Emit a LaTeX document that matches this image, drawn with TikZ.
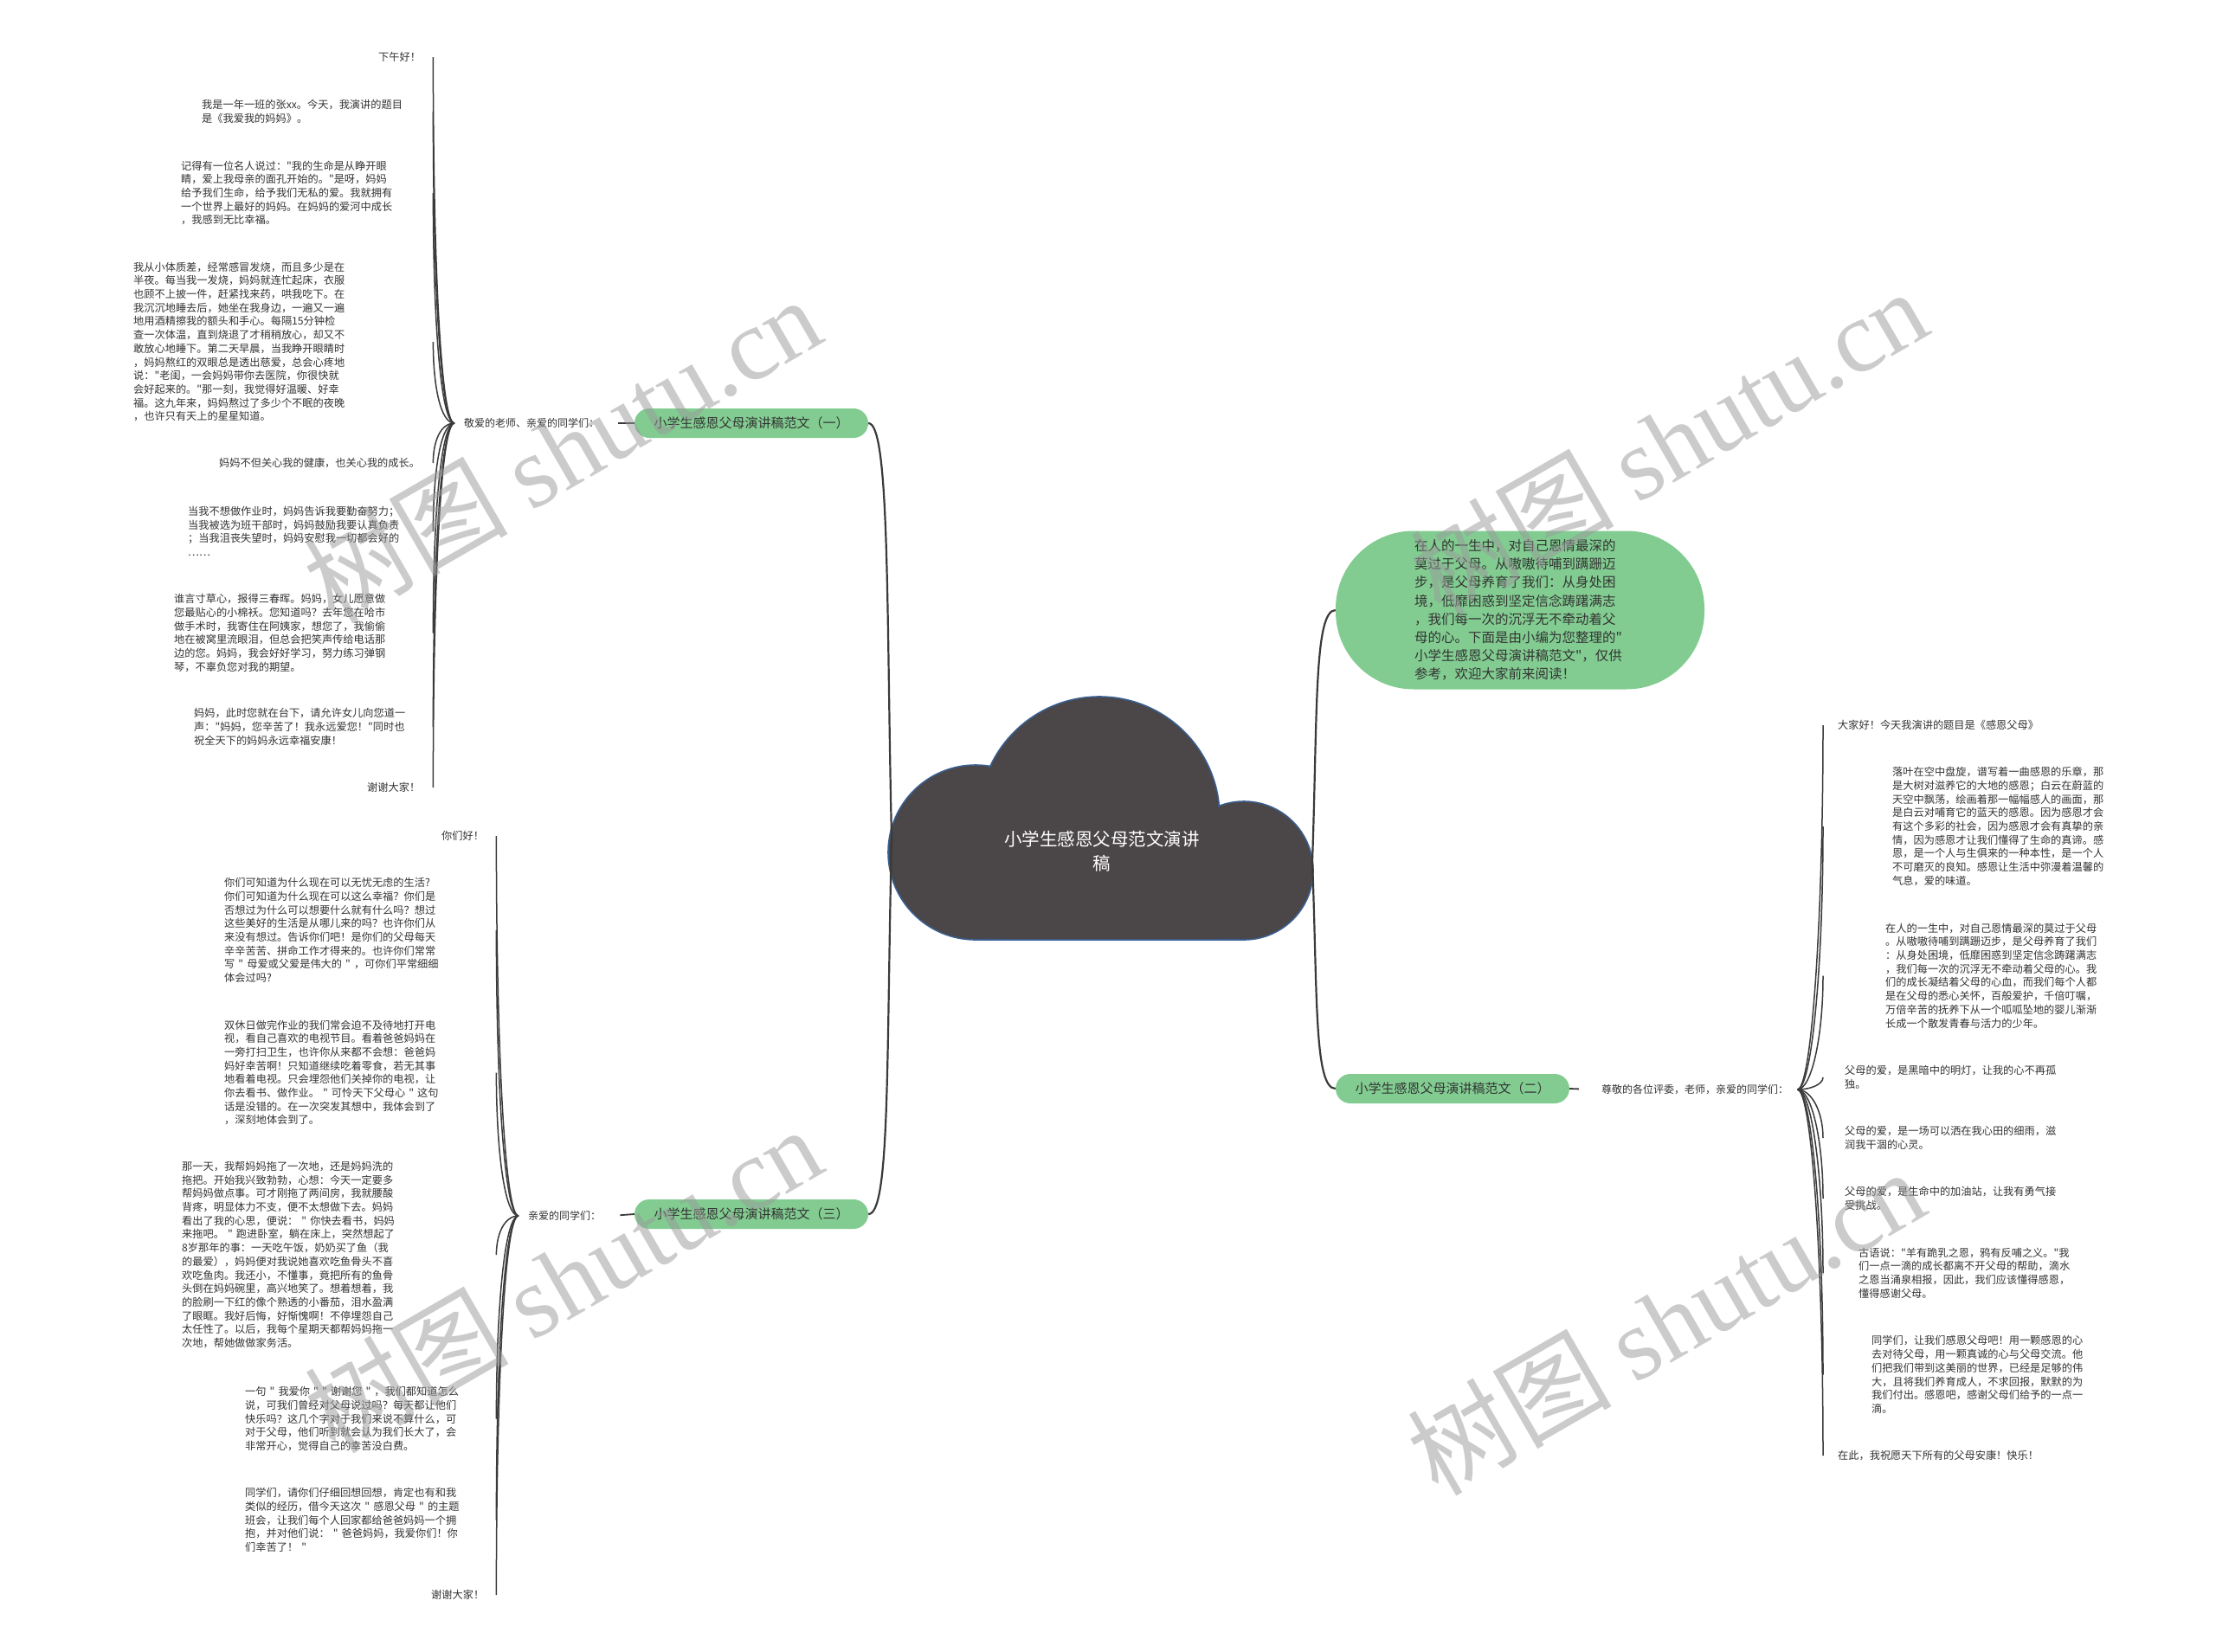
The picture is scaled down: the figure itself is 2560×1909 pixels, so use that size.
\documentclass[tikz,border=0pt]{standalone}
\usepackage{fontspec}
\setmainfont{Noto Sans CJK SC}[Ligatures=TeXOff]
\newfontfamily\wmlatin{Liberation Serif}
\usetikzlibrary{calc}
\definecolor{textc}{HTML}{333333}
\definecolor{linec}{HTML}{3A3A3A}
\definecolor{greenc}{HTML}{82CC91}
\definecolor{cloudc}{HTML}{4B4647}
\definecolor{cloudb}{HTML}{3A5F8F}
\tikzset{
 leaf/.style={font=\fontsize{12.2}{15.7}\selectfont, align=left, inner sep=0pt, text=textc, anchor=west},
 leafR/.style={leaf, text width=300pt},
 lab/.style={font=\fontsize{12}{14}\selectfont, inner xsep=11pt, inner ysep=0pt, text=textc},
 branch/.style={fill=greenc, rounded corners=17pt, minimum width=270pt, minimum height=34pt, inner sep=0pt, font=\fontsize{15}{18}\selectfont, text=textc},
 fan/.style={draw=linec, line width=1.5pt},
 mainc/.style={draw=linec, line width=2.2pt},
 wm/.style={font=\fontsize{118}{118}\selectfont, text=black!40, text opacity=0.5, rotate=30}
}
\newcommand\fanL[2]{\path (#2.east |- #1.west) coordinate (fanaux);
 \draw[fan] (#1.west) .. controls +(-16,0) and ($(#2.east)!0.55!(fanaux)$) .. (#2.east);}
\newcommand\fanR[2]{\path (#2.west |- #1.east) coordinate (fanaux);
 \draw[fan] (#1.east) .. controls +(16,0) and ($(#2.west)!0.55!(fanaux)$) .. (#2.west);}
\begin{document}
\begin{tikzpicture}[x=1pt,y=-1pt]
\fill[white] (0,0) rectangle (2560,1909);
\useasboundingbox (0,0) rectangle (2560,1909);

% ---------- cloud ----------
\draw[cloudb, line width=1.6pt, fill=cloudc] (1127,985) circle (101pt) (1270,944) circle (139pt) (1437,1006) circle (80pt) (1127,950) rectangle (1437,1086);
\fill[cloudc] (1127,985) circle (99.5pt) (1270,944) circle (137.5pt) (1437,1006) circle (78.5pt) (1127,950) rectangle (1437,1084.5);
\node[font=\fontsize{20.5}{28}\selectfont, text=white, align=center] (C) at (1273,984) {小学生感恩父母范文演讲\\稿};
\coordinate (cl) at (1030,968);
\coordinate (cr) at (1516,996);

% ---------- branches ----------
\node[branch] (B1) at (868,489) {小学生感恩父母演讲稿范文（一）};
\node[branch] (B3) at (868,1403) {小学生感恩父母演讲稿范文（三）};
\node[branch] (B2) at (1678,1258) {小学生感恩父母演讲稿范文（二）};
\node[fill=greenc, rounded corners=90pt, minimum width=426pt, minimum height=183pt, inner sep=0pt, text width=244pt, align=left, font=\fontsize{15.5}{21.2}\selectfont, text=textc] (S) at (1756,705) {在人的一生中，对自己恩情最深的\\莫过于父母。从嗷嗷待哺到蹒跚迈\\步，是父母养育了我们：从身处困\\境，低靡困惑到坚定信念踌躇满志\\，我们每一次的沉浮无不牵动着父\\母的心。下面是由小编为您整理的"\\小学生感恩父母演讲稿范文"，仅供\\参考，欢迎大家前来阅读！};

\draw[mainc] (B1.east) .. controls +(25,0) and +(-6,-260) .. (cl);
\draw[mainc] (B3.east) .. controls +(25,0) and +(-6,260) .. (cl);
\draw[mainc] (S.west) .. controls +(-25,0) and +(6,-170) .. (cr);
\draw[mainc] (B2.west) .. controls +(-25,0) and +(6,150) .. (cr);

% ---------- labels ----------
\node[lab, anchor=west] (lab1) at (525,489) {敬爱的老师、亲爱的同学们：};
\node[lab, anchor=west] (lab3) at (599,1405) {亲爱的同学们：};
\node[lab, anchor=west, inner xsep=10pt] (lab2) at (1840,1259) {尊敬的各位评委，老师，亲爱的同学们：};
\draw[linec, line width=1.8pt, shorten >=11pt] (B1.west) -- (lab1.east);
\draw[linec, line width=1.8pt, shorten >=11pt] (B3.west) -- (lab3.east);
\draw[linec, line width=1.8pt, shorten >=16pt] (B2.east) -- (lab2.west);

% ---------- branch 1 leaves ----------
\node[leaf, text width=63pt] (L1a) at (437,66) {下午好！};
\node[leaf, text width=267pt] (L1b) at (233,129) {我是一年一班的张xx。今天，我演讲的题目\\是《我爱我的妈妈》。};
\node[leaf, text width=291pt] (L1c) at (209,223) {记得有一位名人说过："我的生命是从睁开眼\\睛，爱上我母亲的面孔开始的。"是呀，妈妈\\给予我们生命，给予我们无私的爱。我就拥有\\一个世界上最好的妈妈。在妈妈的爱河中成长\\，我感到无比幸福。};
\node[leaf, text width=346pt] (L1d) at (154,395) {我从小体质差，经常感冒发烧，而且多少是在\\半夜。每当我一发烧，妈妈就连忙起床，衣服\\也顾不上披一件，赶紧找来药，哄我吃下。在\\我沉沉地睡去后，她坐在我身边，一遍又一遍\\地用酒精擦我的额头和手心。每隔15分钟检\\查一次体温，直到烧退了才稍稍放心，却又不\\敢放心地睡下。第二天早晨，当我睁开眼睛时\\，妈妈熬红的双眼总是透出慈爱，总会心疼地\\说："老闺，一会妈妈带你去医院，你很快就\\会好起来的。"那一刻，我觉得好温暖、好幸\\福。这九年来，妈妈熬过了多少个不眠的夜晚\\，也许只有天上的星星知道。};
\node[leaf, text width=247pt] (L1e) at (253,535) {妈妈不但关心我的健康，也关心我的成长。};
\node[leaf, text width=283pt] (L1f) at (217,614) {当我不想做作业时，妈妈告诉我要勤奋努力；\\当我被选为班干部时，妈妈鼓励我要认真负责\\；当我沮丧失望时，妈妈安慰我一切都会好的\\……};
\node[leaf, text width=299pt] (L1g) at (201,731.5) {谁言寸草心，报得三春晖。妈妈，女儿愿意做\\您最贴心的小棉袄。您知道吗？去年您在哈市\\做手术时，我寄住在阿姨家，想您了，我偷偷\\地在被窝里流眼泪，但总会把笑声传给电话那\\边的您。妈妈，我会好好学习，努力练习弹钢\\琴，不辜负您对我的期望。};
\node[leaf, text width=276pt] (L1h) at (224,840) {妈妈，此时您就在台下，请允许女儿向您道一\\声："妈妈，您辛苦了！我永远爱您！"同时也\\祝全天下的妈妈永远幸福安康！};
\node[leaf, text width=76pt] (L1i) at (424,910) {谢谢大家！};
\foreach \n in {L1a,L1b,L1c,L1d,L1e,L1f,L1g,L1h,L1i} {\fanL{lab1}{\n}}

% ---------- branch 3 leaves ----------
\node[leaf, text width=63pt] (L3a) at (510,966) {你们好！};
\node[leaf, text width=314pt] (L3b) at (259,1075) {你们可知道为什么现在可以无忧无虑的生活?\\你们可知道为什么现在可以这么幸福？你们是\\否想过为什么可以想要什么就有什么吗？想过\\这些美好的生活是从哪儿来的吗？也许你们从\\来没有想过。告诉你们吧！是你们的父母每天\\辛辛苦苦、拼命工作才得来的。也许你们常常\\写 " 母爱或父爱是伟大的 " ，可你们平常细细\\体会过吗?};
\node[leaf, text width=314pt] (L3c) at (259,1239.5) {双休日做完作业的我们常会迫不及待地打开电\\视，看自己喜欢的电视节目。看着爸爸妈妈在\\一旁打扫卫生，也许你从来都不会想：爸爸妈\\妈好幸苦啊！只知道继续吃着零食，若无其事\\地看着电视。只会埋怨他们关掉你的电视，让\\你去看书、做作业。 " 可怜天下父母心 " 这句\\话是没错的。在一次突发其想中，我体会到了\\，深刻地体会到了。};
\node[leaf, text width=363pt] (L3d) at (210,1450) {那一天，我帮妈妈拖了一次地，还是妈妈洗的\\拖把。开始我兴致勃勃，心想：今天一定要多\\帮妈妈做点事。可才刚拖了两间房，我就腰酸\\背疼，明显体力不支，便不太想做下去。妈妈\\看出了我的心思，便说： " 你快去看书，妈妈\\来拖吧。 " 跑进卧室，躺在床上，突然想起了\\8岁那年的事：一天吃午饭，奶奶买了鱼（我\\的最爱），妈妈便对我说她喜欢吃鱼骨头不喜\\欢吃鱼肉。我还小，不懂事，竟把所有的鱼骨\\头倒在妈妈碗里，高兴地笑了。想着想着，我\\的脸刷一下红的像个熟透的小番茄，泪水盈满\\了眼眶。我好后悔，好惭愧啊！不停埋怨自己\\太任性了。以后，我每个星期天都帮妈妈拖一\\次地，帮她做做家务活。};
\node[leaf, text width=290pt] (L3e) at (283,1639.5) {一句 " 我爱你 " " 谢谢您 " ，我们都知道怎么\\说，可我们曾经对父母说过吗？每天都让他们\\快乐吗？这几个字对于我们来说不算什么，可\\对于父母，他们听到就会认为我们长大了，会\\非常开心，觉得自己的幸苦没白费。};
\node[leaf, text width=290pt] (L3f) at (283,1756.5) {同学们，请你们仔细回想回想，肯定也有和我\\类似的经历，借今天这次 " 感恩父母 " 的主题\\班会，让我们每个人回家都给爸爸妈妈一个拥\\抱，并对他们说： " 爸爸妈妈，我爱你们！你\\们幸苦了！ "};
\node[leaf, text width=75pt] (L3g) at (498,1843) {谢谢大家！};
\foreach \n in {L3a,L3b,L3c,L3d,L3e,L3f,L3g} {\fanL{lab3}{\n}}

% ---------- branch 2 leaves ----------
\node[leafR, inner xsep=17pt] (R1) at (2106,838) {大家好！今天我演讲的题目是《感恩父母》};
\node[leafR, inner xsep=80pt] (R2) at (2106,955) {落叶在空中盘旋，谱写着一曲感恩的乐章，那\\是大树对滋养它的大地的感恩；白云在蔚蓝的\\天空中飘荡，绘画着那一幅幅感人的画面，那\\是白云对哺育它的蓝天的感恩。因为感恩才会\\有这个多彩的社会，因为感恩才会有真挚的亲\\情，因为感恩才让我们懂得了生命的真谛。感\\恩，是一个人与生俱来的一种本性，是一个人\\不可磨灭的良知。感恩让生活中弥漫着温馨的\\气息，爱的味道。};
\node[leafR, inner xsep=72pt] (R3) at (2106,1127.5) {在人的一生中，对自己恩情最深的莫过于父母\\。从嗷嗷待哺到蹒跚迈步，是父母养育了我们\\：从身处困境，低靡困惑到坚定信念踌躇满志\\，我们每一次的沉浮无不牵动着父母的心。我\\们的成长凝结着父母的心血，而我们每个人都\\是在父母的悉心关怀，百般爱护，千倍叮嘱，\\万倍辛苦的抚养下从一个呱呱坠地的婴儿渐渐\\长成一个散发青春与活力的少年。};
\node[leafR, inner xsep=25pt] (R4) at (2106,1245) {父母的爱，是黑暗中的明灯，让我的心不再孤\\独。};
\node[leafR, inner xsep=25pt] (R5) at (2106,1315) {父母的爱，是一场可以洒在我心田的细雨，滋\\润我干涸的心灵。};
\node[leafR, inner xsep=25pt] (R6) at (2106,1385) {父母的爱，是生命中的加油站，让我有勇气接\\受挑战。};
\node[leafR, inner xsep=41pt] (R7) at (2106,1471) {古语说："羊有跪乳之恩，鸦有反哺之义。"我\\们一点一滴的成长都离不开父母的帮助，滴水\\之恩当涌泉相报，因此，我们应该懂得感恩，\\懂得感谢父母。};
\node[leafR, inner xsep=56pt] (R8) at (2106,1588.5) {同学们，让我们感恩父母吧！用一颗感恩的心\\去对待父母，用一颗真诚的心与父母交流。他\\们把我们带到这美丽的世界，已经是足够的伟\\大，且将我们养育成人，不求回报，默默的为\\我们付出。感恩吧，感谢父母们给予的一点一\\滴。};
\node[leafR, inner xsep=17pt] (R9) at (2106,1682) {在此，我祝愿天下所有的父母安康！快乐！};
\foreach \n in {R1,R2,R3,R4,R5,R6,R7,R8,R9} {\fanR{lab2}{\n}}

% ---------- watermarks ----------
\node[wm] (W1) at (649,519) {树图 {\wmlatin shutu.cn}};
\node[wm] (W2) at (1927,510) {树图 {\wmlatin shutu.cn}};
\node[wm] (W3) at (650,1478) {树图 {\wmlatin shutu.cn}};
\node[wm] (W4) at (1924,1527) {树图 {\wmlatin shutu.cn}};
\end{tikzpicture}
\end{document}
